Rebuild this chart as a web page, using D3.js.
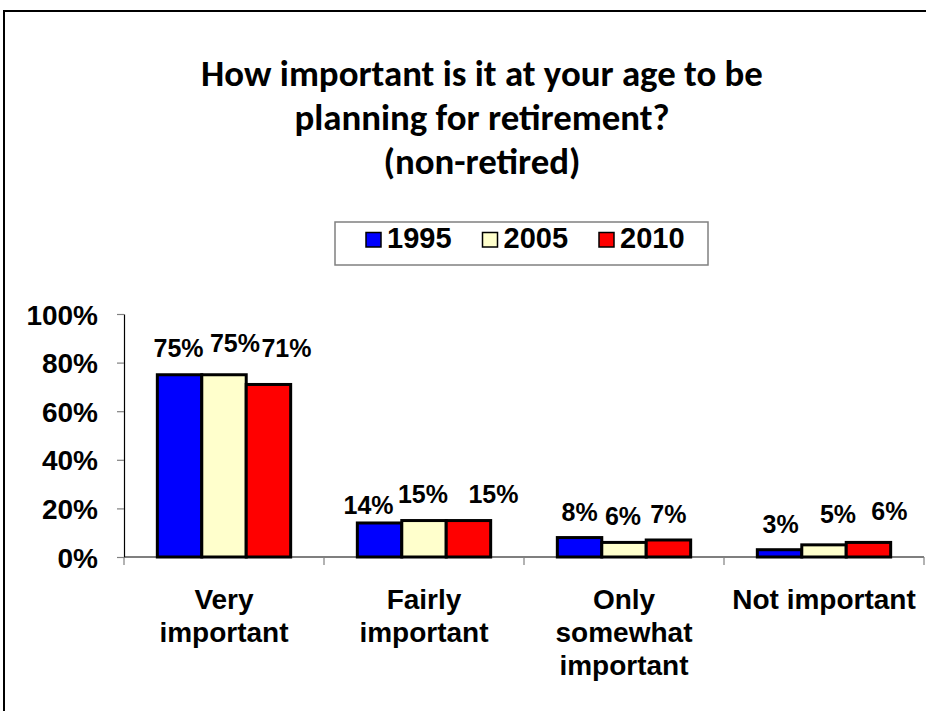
<!DOCTYPE html>
<html>
<head>
<meta charset="utf-8">
<script src="https://cdn.jsdelivr.net/npm/d3@7"></script>
<style>
  html, body { margin: 0; padding: 0; background: #fff; overflow: hidden; }
  svg { display: block; }
</style>
</head>
<body>
<svg id="chart" width="926" height="711"></svg>
<script>
// ---- data ----
const categories = ["Very\nimportant", "Fairly\nimportant", "Only\nsomewhat\nimportant", "Not important"];
const years = ["1995", "2005", "2010"];
const values1995 = [75, 14, 8, 3];
const values2005 = [75, 15, 6, 5];
const values2010 = [71, 15, 7, 6];
const yTickValues = [0, 20, 40, 60, 80, 100];
const titleLines = ["How important is it at your age to be", "planning for retirement?", "(non-retired)"];

// ---- styling / layout ----
const seriesColors = ["#0000FF", "#FFFFCC", "#FF0000"];
const sansBold = "'Liberation Sans', Arial, sans-serif";
const titleFont = "Carlito, Lato, 'Open Sans', sans-serif";
// small nudges (px) that keep neighbouring value labels from colliding
const labelDx = [[-1, 11, 18], [-11, -1, 25], [0, -1, 0], [1, 14, 21]];
const labelDy = [[-1, -6, -10], [8, -1, -1], [0, 0, 0], [0, -5, -5]];

const seriesValues = [values1995, values2005, values2010];

const svg = d3.select("#chart");

// chart-area frame: only its top and left edges fall inside the view
svg.append("path")
  .attr("d", "M4,760 L4,11 L940,11")
  .attr("fill", "none")
  .attr("stroke", "#000")
  .attr("stroke-width", 2);

// ---- title ----
const title = svg.append("g").attr("font-family", titleFont).attr("font-weight", 700)
  .attr("text-anchor", "middle").attr("fill", "#000");
const titleY = [86, 130, 174];
const titleTexts = title.selectAll("text").data(titleLines).join("text")
  .attr("x", 482)
  .attr("y", (d, i) => titleY[i])
  .attr("font-size", 36)
  .text(d => d);
// fit the first title line to its intended width
const firstLen = titleTexts.nodes()[0].getComputedTextLength();
const titleSize = 36 * 562 / firstLen;
titleTexts.attr("font-size", titleSize);

// ---- scales ----
const x = d3.scaleBand().domain(d3.range(categories.length)).range([124, 924]);
const xs = d3.scaleBand().domain(years).range([0, x.bandwidth()]).paddingInner(0).paddingOuter(0.75);
const y = d3.scaleLinear().domain([0, 100]).range([557, 314]);

// ---- y axis ----
const yAxis = svg.append("g")
  .attr("transform", "translate(124,0)")
  .call(d3.axisLeft(y).tickValues(yTickValues).tickSize(7).tickSizeOuter(0)
    .tickPadding(19).tickFormat(d => d + "%"));
yAxis.select(".domain").attr("stroke", "#000").attr("stroke-width", 1.2);
yAxis.selectAll(".tick line").attr("stroke", "#808080").attr("stroke-width", 1.2);
yAxis.selectAll(".tick text")
  .attr("font-family", sansBold).attr("font-weight", 700)
  .attr("font-size", 28).attr("fill", "#000").attr("dy", "0.36em");

// ---- bars ----
const groups = svg.append("g").selectAll("g").data(categories).join("g")
  .attr("transform", (d, i) => `translate(${x(i)},0)`);

groups.each(function (cat, ci) {
  const g = d3.select(this);
  years.forEach((yr, si) => {
    const v = seriesValues[si][ci];
    g.append("rect")
      .attr("x", xs(yr))
      .attr("y", y(v))
      .attr("width", xs.bandwidth())
      .attr("height", y(0) - y(v))
      .attr("fill", seriesColors[si])
      .attr("stroke", "#000")
      .attr("stroke-width", 3);
  });
});

// ---- x axis (drawn over bar bottoms) ----
const xAxis = svg.append("g");
xAxis.append("line")
  .attr("x1", 124).attr("x2", 924)
  .attr("y1", y(0)).attr("y2", y(0))
  .attr("stroke", "#000").attr("stroke-width", 1.2);
const boundaries = d3.range(categories.length).map(i => x(i)).concat([x.range()[1]]);
xAxis.selectAll("line.tick").data(boundaries).join("line")
  .attr("class", "tick")
  .attr("x1", d => d).attr("x2", d => d)
  .attr("y1", y(0)).attr("y2", y(0) + 8)
  .attr("stroke", "#808080").attr("stroke-width", 1.2);

// category labels
const catLabels = svg.append("g")
  .attr("font-family", sansBold).attr("font-weight", 700)
  .attr("font-size", 28).attr("text-anchor", "middle").attr("fill", "#000");
categories.forEach((c, i) => {
  const t = catLabels.append("text").attr("x", x(i) + x.bandwidth() / 2).attr("y", 609);
  c.split("\n").forEach((line, li) => {
    t.append("tspan")
      .attr("x", x(i) + x.bandwidth() / 2)
      .attr("dy", li === 0 ? 0 : 33)
      .text(line);
  });
});

// ---- value labels ----
const valueLabels = svg.append("g")
  .attr("font-family", sansBold).attr("font-weight", 700)
  .attr("font-size", 25).attr("text-anchor", "middle").attr("fill", "#000");
categories.forEach((c, ci) => {
  years.forEach((yr, si) => {
    const v = seriesValues[si][ci];
    valueLabels.append("text")
      .attr("x", x(ci) + xs(yr) + xs.bandwidth() / 2 + labelDx[ci][si])
      .attr("y", y(v) - 17 + labelDy[ci][si])
      .text(v + "%");
  });
});

// ---- legend ----
const legend = svg.append("g");
legend.append("rect")
  .attr("x", 335).attr("y", 222)
  .attr("width", 373).attr("height", 43)
  .attr("fill", "#fff")
  .attr("stroke", "#808080").attr("stroke-width", 1.5);
const legendStep = 116.5;
const items = legend.selectAll("g.item").data(years).join("g")
  .attr("class", "item")
  .attr("transform", (d, i) => `translate(${366 + i * legendStep},0)`);
items.append("rect")
  .attr("x", 0).attr("y", 232.5)
  .attr("width", 15).attr("height", 14.5)
  .attr("fill", (d, i) => seriesColors[i])
  .attr("stroke", "#000").attr("stroke-width", 1.5);
items.append("text")
  .attr("x", 21).attr("y", 248)
  .attr("font-family", sansBold).attr("font-weight", 700)
  .attr("font-size", 29).attr("fill", "#000")
  .text(d => d);
</script>
</body>
</html>
